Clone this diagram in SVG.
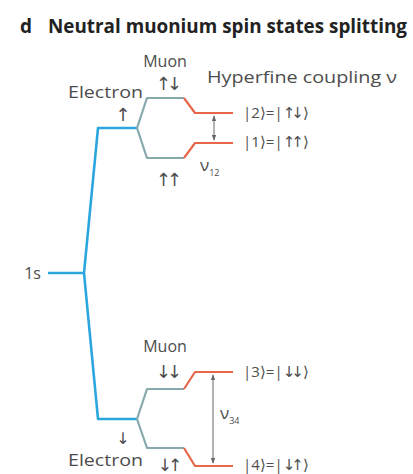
<svg xmlns="http://www.w3.org/2000/svg" width="413" height="474" viewBox="0 0 413 474">
<style>
.t{font-family:"Open Sans","Liberation Sans",sans-serif;fill:#4d4d4d;}
.a{font-family:"DejaVu Sans",sans-serif;fill:#4d4d4d;letter-spacing:-4px;}
.blue{fill:none;stroke:#2aa6df;stroke-width:2.6;stroke-linejoin:round;}
.teal{fill:none;stroke:#86a9ad;stroke-width:2.2;stroke-linejoin:round;}
.red{fill:none;stroke:#e8674b;stroke-width:2.2;stroke-linejoin:round;}
.dbl{stroke:#666;stroke-width:1;marker-start:url(#ah);marker-end:url(#ah);}
</style>
<defs>
<marker id="ah" viewBox="0 0 8 8" refX="7" refY="4" markerWidth="6" markerHeight="6" orient="auto-start-reverse" markerUnits="userSpaceOnUse">
<path d="M0,1 L8,4 L0,7 z" fill="#666"/>
</marker>
</defs>
<rect width="413" height="474" fill="#fff"/>
<g id="title">
<text x="20" y="33" font-family="Open Sans, Liberation Sans, sans-serif" font-weight="bold" font-size="19" fill="#222">d</text>
<text x="48" y="33" font-family="Open Sans, Liberation Sans, sans-serif" font-weight="bold" font-size="19" fill="#222" textLength="359" lengthAdjust="spacingAndGlyphs">Neutral muonium spin states splitting</text>
</g>
<g id="connectors">
<path class="blue" d="M48,273 H84 M84,273 L98,128 H137 M84,273 L98,419 H137"/>
<path class="teal" d="M137,128 L147,98 H184 M137,128 L147,158 H184"/>
<path class="teal" d="M137,419 L147,389 H184 M137,419 L147,448 H184"/>
<path class="red" d="M184,98 L195,113 H233 M184,158 L195,143 H233"/>
<path class="red" d="M184,389 L195,372 H233 M184,448 L195,466 H233"/>
<line class="dbl" x1="214" y1="116" x2="214" y2="140"/>
<line class="dbl" x1="213" y1="375" x2="213" y2="463"/>
</g>
<g id="ground">
<text class="t" x="41" y="279" font-size="16" text-anchor="end">1s</text>
</g>
<g id="upper">
<text class="t" x="165" y="67" font-size="16" text-anchor="middle">Muon</text>
<text class="a" x="167" y="90" font-size="18" text-anchor="middle">↑↓</text>
<text class="t" x="68" y="98" font-size="17" textLength="75" lengthAdjust="spacingAndGlyphs">Electron</text>
<text class="a" x="121" y="121" font-size="18" text-anchor="middle">↑</text>
<text class="a" x="167" y="186" font-size="18" text-anchor="middle">↑↑</text>
<text class="t" x="207" y="83" font-size="16" textLength="190" lengthAdjust="spacingAndGlyphs">Hyperfine coupling ν</text>
<text class="t" x="243" y="118" font-size="15">|2⟩=|<tspan class="a" font-size="15">↑↓</tspan><tspan dx="3">⟩</tspan></text>
<text class="t" x="243" y="147" font-size="15">|1⟩=|<tspan class="a" font-size="15">↑↑</tspan><tspan dx="3">⟩</tspan></text>
<text class="t" x="200" y="171" font-size="17">ν<tspan font-size="9" dy="5">12</tspan></text>
</g>
<g id="lower">
<text class="t" x="165" y="352" font-size="16" text-anchor="middle">Muon</text>
<text class="a" x="167" y="378" font-size="18" text-anchor="middle">↓↓</text>
<text class="a" x="121" y="444" font-size="16" text-anchor="middle">↓</text>
<text class="t" x="68" y="466" font-size="17" textLength="75" lengthAdjust="spacingAndGlyphs">Electron</text>
<text class="a" x="168" y="471" font-size="17" text-anchor="middle">↓↑</text>
<text class="t" x="243" y="377" font-size="15">|3⟩=|<tspan class="a" font-size="15">↓↓</tspan><tspan dx="3">⟩</tspan></text>
<text class="t" x="243" y="470" font-size="15">|4⟩=|<tspan class="a" font-size="15">↓↑</tspan><tspan dx="3">⟩</tspan></text>
<text class="t" x="220" y="419" font-size="17">ν<tspan font-size="9" dy="5">34</tspan></text>
</g>
</svg>
